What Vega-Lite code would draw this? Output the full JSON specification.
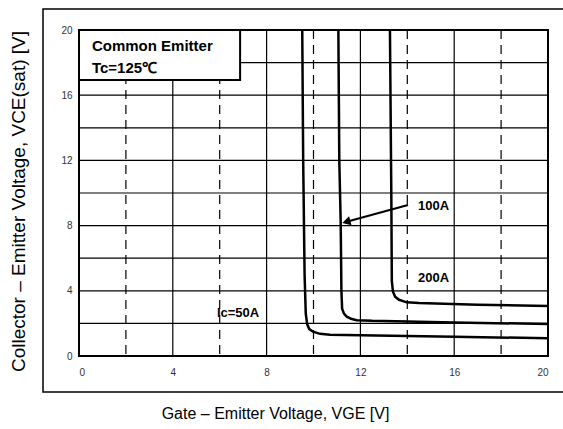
{
  "$schema": "https://vega.github.io/schema/vega-lite/v6.json",
  "width": 469,
  "height": 326,
  "autosize": {"type": "none"},
  "padding": {"left": 79, "top": 30, "right": 15, "bottom": 73},
  "background": "white",
  "config": {
    "view": {"stroke": "black", "strokeWidth": 2},
    "font": "Liberation Sans",
    "axis": {"grid": false, "ticks": false, "domain": false, "labelFont": "Liberation Sans", "labelFontSize": 10, "labelColor": "#333", "titleFont": "Liberation Sans", "titleFontWeight": "normal", "titleColor": "black"}
  },
  "datasets": {
    "vdash": [{"v": 2}, {"v": 6}, {"v": 10}, {"v": 14}, {"v": 18}],
    "vsolid": [{"v": 4}, {"v": 8}, {"v": 12}, {"v": 16}],
    "hsolid": [{"v": 2}, {"v": 4}, {"v": 6}, {"v": 8}, {"v": 10}, {"v": 12}, {"v": 14}, {"v": 16}, {"v": 18}],
    "curves": [
      {"ic": "50A", "vge": 9.52, "vce": 20},
      {"ic": "50A", "vge": 9.56, "vce": 12},
      {"ic": "50A", "vge": 9.62, "vce": 5},
      {"ic": "50A", "vge": 9.67, "vce": 2.6},
      {"ic": "50A", "vge": 9.73, "vce": 1.95},
      {"ic": "50A", "vge": 9.82, "vce": 1.65},
      {"ic": "50A", "vge": 9.98, "vce": 1.49},
      {"ic": "50A", "vge": 10.28, "vce": 1.36},
      {"ic": "50A", "vge": 10.7, "vce": 1.3},
      {"ic": "50A", "vge": 12, "vce": 1.28},
      {"ic": "50A", "vge": 16, "vce": 1.18},
      {"ic": "50A", "vge": 20, "vce": 1.09},
      {"ic": "100A", "vge": 11.06, "vce": 20},
      {"ic": "100A", "vge": 11.1, "vce": 12},
      {"ic": "100A", "vge": 11.16, "vce": 8.16},
      {"ic": "100A", "vge": 11.19, "vce": 4},
      {"ic": "100A", "vge": 11.22, "vce": 2.9},
      {"ic": "100A", "vge": 11.3, "vce": 2.6},
      {"ic": "100A", "vge": 11.42, "vce": 2.41},
      {"ic": "100A", "vge": 11.6, "vce": 2.28},
      {"ic": "100A", "vge": 11.84, "vce": 2.2},
      {"ic": "100A", "vge": 12.5, "vce": 2.16},
      {"ic": "100A", "vge": 16, "vce": 2.06},
      {"ic": "100A", "vge": 20, "vce": 1.96},
      {"ic": "200A", "vge": 13.26, "vce": 20},
      {"ic": "200A", "vge": 13.32, "vce": 9.57},
      {"ic": "200A", "vge": 13.34, "vce": 4.6},
      {"ic": "200A", "vge": 13.39, "vce": 3.95},
      {"ic": "200A", "vge": 13.48, "vce": 3.64},
      {"ic": "200A", "vge": 13.65, "vce": 3.45},
      {"ic": "200A", "vge": 13.97, "vce": 3.29},
      {"ic": "200A", "vge": 14.5, "vce": 3.25},
      {"ic": "200A", "vge": 17, "vce": 3.15},
      {"ic": "200A", "vge": 20, "vce": 3.07}
    ],
    "arrow": [
      {"vge": 14.03, "vce": 9.26},
      {"vge": 11.45, "vce": 8.25}
    ],
    "arrowhead": [{"vge": 11.4, "vce": 8.23}],
    "bigtext": [
      {"vge": 0.55, "vce": 18.71, "label": "Common Emitter"},
      {"vge": 0.55, "vce": 17.36, "label": "Tc=125℃"}
    ],
    "smalltext": [
      {"vge": 5.88, "vce": 2.39, "label": "Ic=50A"},
      {"vge": 14.46, "vce": 8.96, "label": "100A"},
      {"vge": 14.46, "vce": 4.54, "label": "200A"}
    ]
  },
  "layer": [
    {
      "data": {"name": "vdash"},
      "mark": {"type": "rule", "color": "black", "strokeWidth": 1.2, "strokeDash": [9, 6]},
      "encoding": {"x": {"field": "v", "type": "quantitative", "scale": {"domain": [0, 20], "nice": false}}}
    },
    {
      "data": {"name": "vsolid"},
      "mark": {"type": "rule", "color": "black", "strokeWidth": 1.2},
      "encoding": {"x": {"field": "v", "type": "quantitative", "scale": {"domain": [0, 20], "nice": false}}}
    },
    {
      "data": {"name": "hsolid"},
      "mark": {"type": "rule", "color": "black", "strokeWidth": 1.2},
      "encoding": {"y": {"field": "v", "type": "quantitative", "scale": {"domain": [0, 20], "nice": false}}}
    },
    {
      "data": {"values": [{}]},
      "mark": {"type": "rect", "fill": null, "stroke": "black", "strokeWidth": 1.5},
      "encoding": {
        "x": {"datum": -1.535, "type": "quantitative", "scale": {"domain": [0, 20], "nice": false}},
        "x2": {"datum": 21.5},
        "y": {"datum": 21.29, "type": "quantitative", "scale": {"domain": [0, 20], "nice": false}},
        "y2": {"datum": -2.21}
      }
    },
    {
      "data": {"values": [{}]},
      "mark": {"type": "rect", "fill": "white", "stroke": "black", "strokeWidth": 2},
      "encoding": {
        "x": {"datum": 0, "type": "quantitative", "scale": {"domain": [0, 20], "nice": false}},
        "x2": {"datum": 6.87},
        "y": {"datum": 20, "type": "quantitative", "scale": {"domain": [0, 20], "nice": false}},
        "y2": {"datum": 16.93}
      }
    },
    {
      "data": {"name": "curves"},
      "mark": {"type": "line", "color": "black", "strokeWidth": 2.5, "interpolate": "linear"},
      "encoding": {
        "x": {"field": "vge", "type": "quantitative", "scale": {"domain": [0, 20], "nice": false},
              "axis": {"values": [0, 4, 8, 12, 16, 20], "labelPadding": 11, "title": "Gate – Emitter Voltage, VGE [V]", "titleFontSize": 16, "titlePadding": 28, "titleX": 196, "titleAlign": "center"}},
        "y": {"field": "vce", "type": "quantitative", "scale": {"domain": [0, 20], "nice": false},
              "axis": {"values": [0, 4, 8, 12, 16, 20], "labelPadding": 7, "title": "Collector – Emitter Voltage, VCE(sat) [V]", "titleFontSize": 19, "titlePadding": 32, "titleY": 171, "titleAlign": "center"}},
        "detail": {"field": "ic"}
      }
    },
    {
      "data": {"name": "arrow"},
      "mark": {"type": "line", "color": "black", "strokeWidth": 2},
      "encoding": {
        "x": {"field": "vge", "type": "quantitative", "scale": {"domain": [0, 20], "nice": false}},
        "y": {"field": "vce", "type": "quantitative", "scale": {"domain": [0, 20], "nice": false}}
      }
    },
    {
      "data": {"name": "arrowhead"},
      "mark": {"type": "point", "shape": "triangle-up", "filled": true, "color": "black", "size": 90, "angle": 255, "opacity": 1},
      "encoding": {
        "x": {"field": "vge", "type": "quantitative", "scale": {"domain": [0, 20], "nice": false}},
        "y": {"field": "vce", "type": "quantitative", "scale": {"domain": [0, 20], "nice": false}}
      }
    },
    {
      "data": {"name": "bigtext"},
      "mark": {"type": "text", "align": "left", "baseline": "alphabetic", "fontSize": 15, "fontWeight": "bold", "font": "Liberation Sans", "color": "black"},
      "encoding": {
        "x": {"field": "vge", "type": "quantitative", "scale": {"domain": [0, 20], "nice": false}},
        "y": {"field": "vce", "type": "quantitative", "scale": {"domain": [0, 20], "nice": false}},
        "text": {"field": "label"}
      }
    },
    {
      "data": {"name": "smalltext"},
      "mark": {"type": "text", "align": "left", "baseline": "alphabetic", "fontSize": 13, "fontWeight": "bold", "font": "Liberation Sans", "color": "black"},
      "encoding": {
        "x": {"field": "vge", "type": "quantitative", "scale": {"domain": [0, 20], "nice": false}},
        "y": {"field": "vce", "type": "quantitative", "scale": {"domain": [0, 20], "nice": false}},
        "text": {"field": "label"}
      }
    }
  ]
}
